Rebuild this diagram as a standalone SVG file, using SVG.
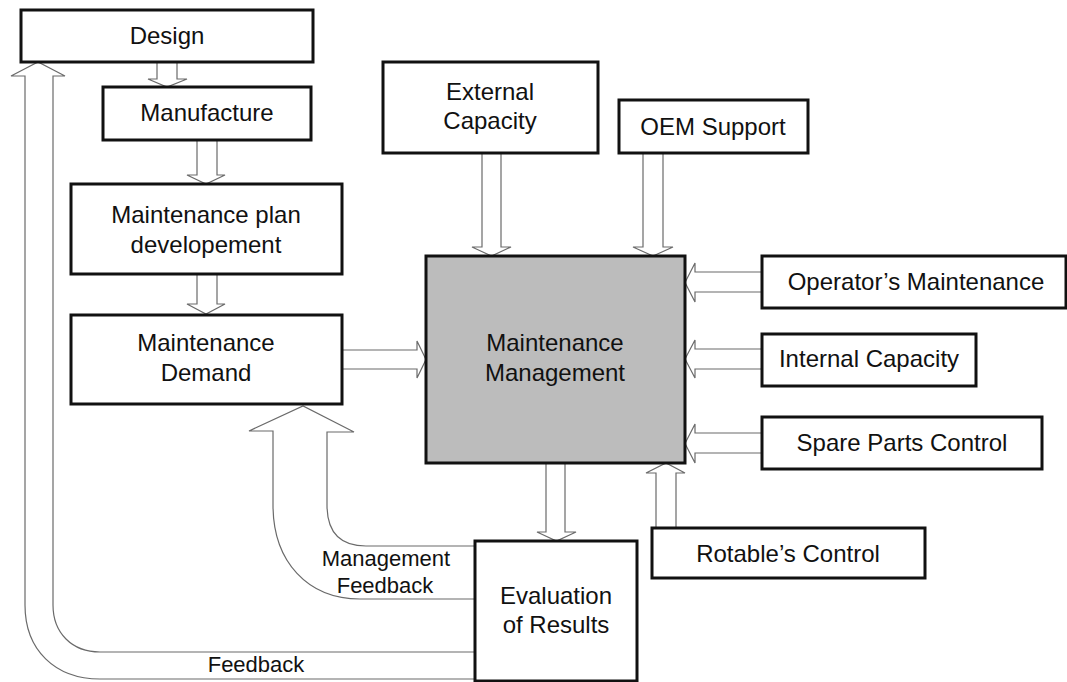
<svg xmlns="http://www.w3.org/2000/svg" width="1067" height="682" viewBox="0 0 1067 682">
<style>
.box{fill:#fff;stroke:#111;stroke-width:3}
.mm{fill:#bcbcbc;stroke:#111;stroke-width:3}
.arr{fill:#fff;stroke:#6a6a6a;stroke-width:1.2;stroke-linejoin:miter}
text{font-family:"Liberation Sans",Arial,sans-serif;font-size:24px;fill:#111;text-anchor:middle}
.sm{font-size:22px}
</style>
<rect width="1067" height="682" fill="#fff"/>
<g id="connectors">
  <!-- Design -> Manufacture -->
  <path class="arr" d="M157,62 V79 H148 L167,87 L187,79 H177 V62"/>
  <!-- Manufacture -> MPD -->
  <path class="arr" d="M197,140 V175 H187 L206,184 L225,175 H217 V140"/>
  <!-- MPD -> MD -->
  <path class="arr" d="M197,274 V304 H187 L206,314 L225,304 H217 V274"/>
  <!-- MD -> MM -->
  <path class="arr" d="M342,350 H417 V341 L426,359.5 L417,378 V369 H342"/>
  <!-- External -> MM -->
  <path class="arr" d="M482,153 V247 H472 L491.5,256 L511,247 H501 V153"/>
  <!-- OEM -> MM -->
  <path class="arr" d="M643,153 V247 H633 L653,256 L673,247 H663 V153"/>
  <!-- Operator's -> MM -->
  <path class="arr" d="M762,272 H695 V263 L685,282.5 L695,302 V292 H762"/>
  <!-- Internal -> MM -->
  <path class="arr" d="M762,349 H695 V340 L685,359 L695,378 V369 H762"/>
  <!-- Spare -> MM -->
  <path class="arr" d="M762,433 H695 V424 L685,443.5 L695,463 V453 H762"/>
  <!-- Rotable -> MM -->
  <path class="arr" d="M656,528 V473 H646 L666,463 L685,473 H676 V528"/>
  <!-- MM -> Evaluation -->
  <path class="arr" d="M546,463 V532 H537 L556.5,541 L576,532 H565 V463"/>
  <!-- Management feedback -->
  <path class="arr" d="M475,599 H360 C308,599 273,562 273,505 V431 H249 L303,406 L354,432 H327 V505 C327,532 340,546 366,546 H475"/>
  <!-- Feedback -->
  <path class="arr" d="M475,679 H100 C55,679 25,650 25,605 V76 H11 L38,62 L65,76 H53 V605 C53,633 72,652 100,652 H475"/>
</g>
<g id="design"><rect class="box" x="21" y="10" width="292" height="52"/><text x="167" y="44">Design</text></g>
<g id="manufacture"><rect class="box" x="103" y="87" width="208" height="53"/><text x="207" y="121">Manufacture</text></g>
<g id="mpd"><rect class="box" x="71" y="184" width="271" height="90"/><text x="206" y="223">Maintenance plan</text><text x="206" y="253">developement</text></g>
<g id="md"><rect class="box" x="71" y="315" width="271" height="89"/><text x="206" y="351">Maintenance</text><text x="206" y="381">Demand</text></g>
<g id="mm"><rect class="mm" x="426" y="256" width="259" height="207"/><text x="555" y="351">Maintenance</text><text x="555" y="381">Management</text></g>
<g id="external"><rect class="box" x="383" y="62" width="215" height="91"/><text x="490" y="100">External</text><text x="490" y="129">Capacity</text></g>
<g id="oem"><rect class="box" x="619" y="100" width="189" height="53"/><text x="713" y="135">OEM Support</text></g>
<g id="operator"><rect class="box" x="762" y="256" width="304" height="52"/><text x="916" y="290">Operator’s Maintenance</text></g>
<g id="internal"><rect class="box" x="762" y="334" width="214" height="52"/><text x="869" y="367">Internal Capacity</text></g>
<g id="spare"><rect class="box" x="762" y="417" width="280" height="52"/><text x="902" y="451">Spare Parts Control</text></g>
<g id="rotable"><rect class="box" x="652" y="528" width="273" height="50"/><text x="788" y="562">Rotable’s Control</text></g>
<g id="evaluation"><rect class="box" x="475" y="541" width="162" height="140"/><text x="556" y="604">Evaluation</text><text x="556" y="633">of Results</text></g>
<g id="labels"><text class="sm" x="386" y="566">Management</text><text class="sm" x="385" y="593">Feedback</text><text class="sm" x="256" y="672">Feedback</text></g>
</svg>
